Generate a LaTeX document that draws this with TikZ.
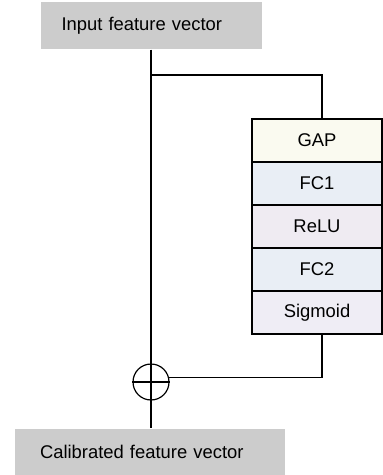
\documentclass[tikz,border=0pt]{standalone}
\usepackage{fontspec}
\setmainfont{Liberation Sans}
\definecolor{boxgray}{HTML}{CCCCCC}
\definecolor{gapfill}{HTML}{FAFAF0}
\definecolor{fcfill}{HTML}{E9EEF5}
\definecolor{relufill}{HTML}{EFEBF2}
\definecolor{sigfill}{HTML}{EFEDF5}

\newcommand*{\trunkx}{151}
\newcommand*{\stackx}{317}

\begin{document}
\begin{tikzpicture}
[
	x=0.5pt, y=-0.5pt,
	font=\fontsize{9.2}{11}\selectfont,
	line width=0.6pt,
	vecbox/.style={rectangle,fill=boxgray,align=left,inner ysep=0pt},
	layer/.style={rectangle,draw,minimum width=65pt,minimum height=21.5pt,inner sep=0pt},
	sumpt/.style={circle,draw,minimum size=18pt,inner sep=0pt}
]
	\useasboundingbox (0,0) rectangle (383,475);

	% input and output vectors
	\node[vecbox,inner xsep=10.5pt,text width=89.5pt,minimum height=23.5pt] (input) at (\trunkx,25.5) {Input feature vector};
	\node[vecbox,inner xsep=12.5pt,text width=110pt,minimum height=23pt] (output) at (150,452) {Calibrated feature vector};

	% excitation stack
	\foreach \name/\lbl/\col [count=\i] in {gap/GAP/gapfill,fc1/FC1/fcfill,relu/ReLU/relufill,fc2/FC2/fcfill,sig/Sigmoid/sigfill} {
		\node[layer,fill=\col] (\name) at (\stackx,{97.5+43*\i}) {\lbl};
	}

	% sum
	\node[sumpt] (add) at (\trunkx,382) {};
	\draw (add.west) -- (add.east);

	% trunk
	\coordinate (split) at (\trunkx,75);
	\draw (input.south) -- (add.north);
	\draw (add.north) -- (add.south);
	\draw (add.south) -- (add.south |- output.north);

	% branch
	\draw (split) -| ([xshift=2.5pt]gap.north);
	\draw ([xshift=2.5pt]sig.south) |- (add.15);

\end{tikzpicture}
\end{document}
